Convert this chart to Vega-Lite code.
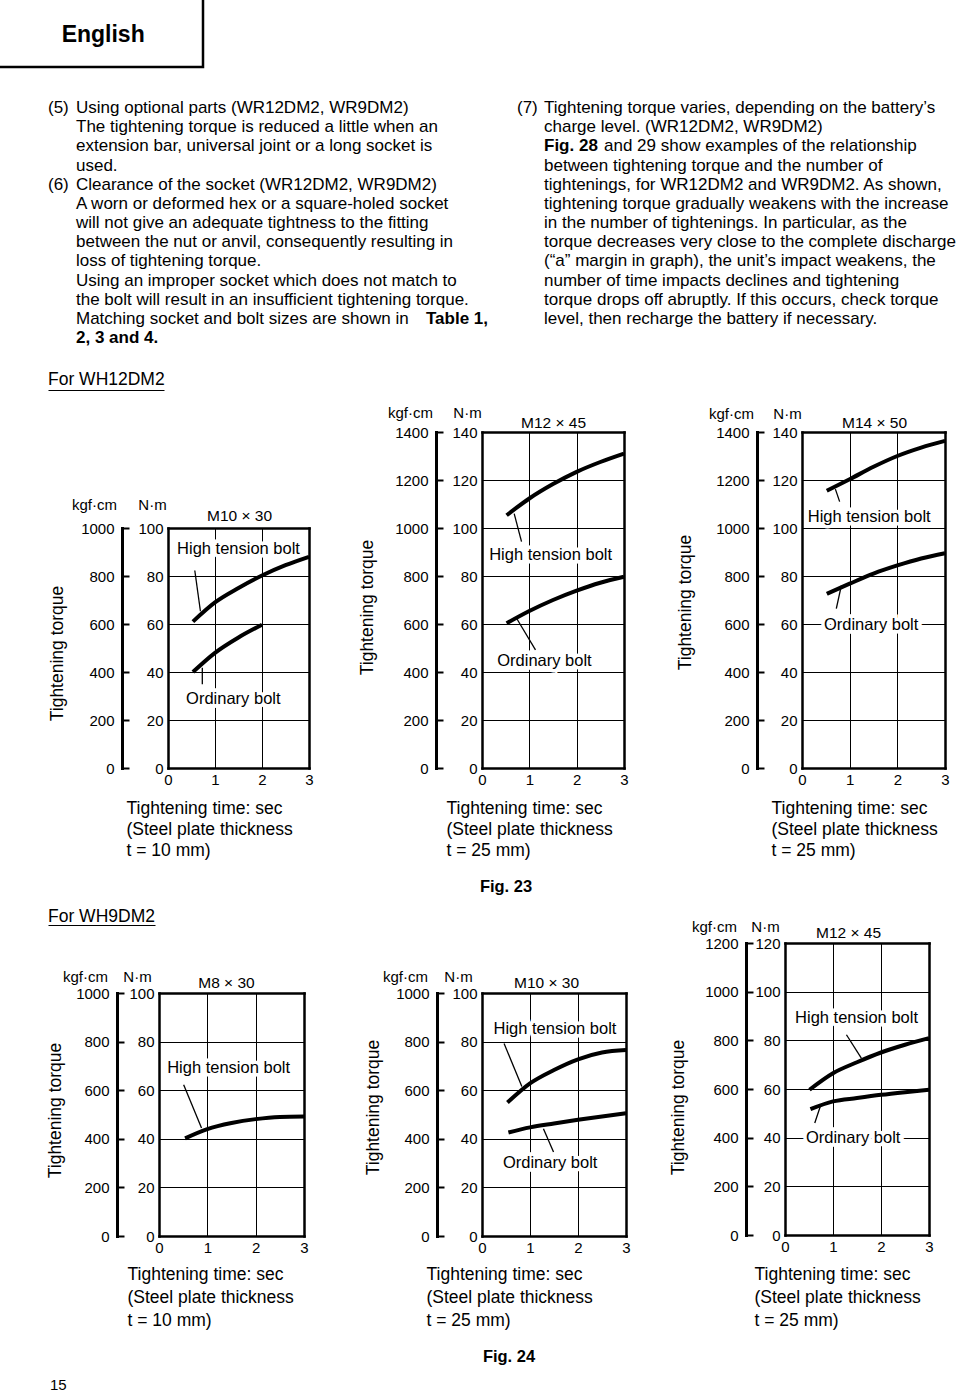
{
"$schema": "https://vega.github.io/schema/vega-lite/v6.json",
"width": 960, "height": 1392,
"autosize": {"type": "none"},
"padding": 0,
"background": "white",
"config": {
  "view": {"stroke": null},
  "font": "Liberation Sans",
  "text": {"font": "Liberation Sans", "color": "black"},
  "axis": {"labelFont": "Liberation Sans", "titleFont": "Liberation Sans", "labelColor": "black", "titleColor": "black", "titleFontWeight": "normal", "domainColor": "black", "tickColor": "black", "gridColor": "black", "gridOpacity": 1, "labelFontSize": 15, "titleFontSize": 15, "labelOverlap": false}
},
"datasets": {
  "header": [{"text": "English"}],
  "para": [
    {"col": 0, "line": 1, "text": "Using optional parts (WR12DM2, WR9DM2)"},
    {"col": 0, "line": 2, "text": "The tightening torque is reduced a little when an"},
    {"col": 0, "line": 3, "text": "extension bar, universal joint or a long socket is"},
    {"col": 0, "line": 4, "text": "used."},
    {"col": 0, "line": 5, "text": "Clearance of the socket (WR12DM2, WR9DM2)"},
    {"col": 0, "line": 6, "text": "A worn or deformed hex or a square-holed socket"},
    {"col": 0, "line": 7, "text": "will not give an adequate tightness to the fitting"},
    {"col": 0, "line": 8, "text": "between the nut or anvil, consequently resulting in"},
    {"col": 0, "line": 9, "text": "loss of tightening torque."},
    {"col": 0, "line": 10, "text": "Using an improper socket which does not match to"},
    {"col": 0, "line": 11, "text": "the bolt will result in an insufficient tightening torque."},
    {"col": 0, "line": 12, "text": "Matching socket and bolt sizes are shown in"},
    {"col": 1, "line": 1, "text": "Tightening torque varies, depending on the battery’s"},
    {"col": 1, "line": 2, "text": "charge level. (WR12DM2, WR9DM2)"},
    {"col": 1, "line": 4, "text": "between tightening torque and the number of"},
    {"col": 1, "line": 5, "text": "tightenings, for WR12DM2 and WR9DM2. As shown,"},
    {"col": 1, "line": 6, "text": "tightening torque gradually weakens with the increase"},
    {"col": 1, "line": 7, "text": "in the number of tightenings. In particular, as the"},
    {"col": 1, "line": 8, "text": "torque decreases very close to the complete discharge"},
    {"col": 1, "line": 9, "text": "(“a” margin in graph), the unit’s impact weakens, the"},
    {"col": 1, "line": 10, "text": "number of time impacts declines and tightening"},
    {"col": 1, "line": 11, "text": "torque drops off abruptly. If this occurs, check torque"},
    {"col": 1, "line": 12, "text": "level, then recharge the battery if necessary."}
  ],
  "paraBoldL": [{"col": 0, "line": 13, "text": "2, 3 and 4."}, {"col": 1, "line": 3, "text": "Fig. 28"}],
  "paraCont": [{"col": 1, "line": 3, "text": "and 29 show examples of the relationship"}],
  "paraEnd": [{"col": 0, "line": 12, "text": "Table 1,"}],
  "paraNum": [{"col": 0, "line": 1, "text": "(5)"}, {"col": 0, "line": 5, "text": "(6)"}, {"col": 1, "line": 1, "text": "(7)"}],
  "heads": [{"fig": 23, "text": "For WH12DM2"}, {"fig": 24, "text": "For WH9DM2"}],
  "figs": [{"fig": 23, "text": "Fig. 23"}, {"fig": 24, "text": "Fig. 24"}],
  "page": [{"text": "15"}],
  "curves": [
    {"chart": "c1", "series": "HT", "t": 0.53, "v": 61}, {"chart": "c1", "series": "HT", "t": 1, "v": 69}, {"chart": "c1", "series": "HT", "t": 1.5, "v": 75}, {"chart": "c1", "series": "HT", "t": 2, "v": 80.2}, {"chart": "c1", "series": "HT", "t": 2.5, "v": 84.5}, {"chart": "c1", "series": "HT", "t": 3, "v": 88},
    {"chart": "c1", "series": "ORD", "t": 0.53, "v": 40}, {"chart": "c1", "series": "ORD", "t": 1, "v": 48}, {"chart": "c1", "series": "ORD", "t": 1.5, "v": 54.4}, {"chart": "c1", "series": "ORD", "t": 2, "v": 59.7},
    {"chart": "c2", "series": "HT", "t": 0.52, "v": 105.3}, {"chart": "c2", "series": "HT", "t": 1, "v": 112.3}, {"chart": "c2", "series": "HT", "t": 1.5, "v": 118.3}, {"chart": "c2", "series": "HT", "t": 2, "v": 123.4}, {"chart": "c2", "series": "HT", "t": 2.5, "v": 127.5}, {"chart": "c2", "series": "HT", "t": 3, "v": 131},
    {"chart": "c2", "series": "ORD", "t": 0.52, "v": 60.3}, {"chart": "c2", "series": "ORD", "t": 1, "v": 65.4}, {"chart": "c2", "series": "ORD", "t": 1.5, "v": 70}, {"chart": "c2", "series": "ORD", "t": 2, "v": 73.9}, {"chart": "c2", "series": "ORD", "t": 2.5, "v": 77.2}, {"chart": "c2", "series": "ORD", "t": 3, "v": 79.7},
    {"chart": "c3", "series": "HT", "t": 0.52, "v": 115.5}, {"chart": "c3", "series": "HT", "t": 1, "v": 120.3}, {"chart": "c3", "series": "HT", "t": 1.5, "v": 125.5}, {"chart": "c3", "series": "HT", "t": 2, "v": 130}, {"chart": "c3", "series": "HT", "t": 2.5, "v": 133.5}, {"chart": "c3", "series": "HT", "t": 3, "v": 136.3},
    {"chart": "c3", "series": "ORD", "t": 0.52, "v": 72.6}, {"chart": "c3", "series": "ORD", "t": 1, "v": 76.8}, {"chart": "c3", "series": "ORD", "t": 1.5, "v": 81}, {"chart": "c3", "series": "ORD", "t": 2, "v": 84.4}, {"chart": "c3", "series": "ORD", "t": 2.5, "v": 87.3}, {"chart": "c3", "series": "ORD", "t": 3, "v": 89.5},
    {"chart": "c4", "series": "HT", "t": 0.54, "v": 40.2}, {"chart": "c4", "series": "HT", "t": 1, "v": 44}, {"chart": "c4", "series": "HT", "t": 1.5, "v": 46.5}, {"chart": "c4", "series": "HT", "t": 2, "v": 48.1}, {"chart": "c4", "series": "HT", "t": 2.5, "v": 49}, {"chart": "c4", "series": "HT", "t": 3, "v": 49.2},
    {"chart": "c5", "series": "HT", "t": 0.53, "v": 54.9}, {"chart": "c5", "series": "HT", "t": 1, "v": 62.8}, {"chart": "c5", "series": "HT", "t": 1.5, "v": 68.3}, {"chart": "c5", "series": "HT", "t": 2, "v": 72.7}, {"chart": "c5", "series": "HT", "t": 2.5, "v": 75.5}, {"chart": "c5", "series": "HT", "t": 3, "v": 76.5},
    {"chart": "c5", "series": "ORD", "t": 0.55, "v": 42.6}, {"chart": "c5", "series": "ORD", "t": 1, "v": 44.7}, {"chart": "c5", "series": "ORD", "t": 1.5, "v": 46.3}, {"chart": "c5", "series": "ORD", "t": 2, "v": 47.8}, {"chart": "c5", "series": "ORD", "t": 2.5, "v": 49.2}, {"chart": "c5", "series": "ORD", "t": 3, "v": 50.5},
    {"chart": "c6", "series": "HT", "t": 0.51, "v": 59.7}, {"chart": "c6", "series": "HT", "t": 1, "v": 66.5}, {"chart": "c6", "series": "HT", "t": 1.5, "v": 71}, {"chart": "c6", "series": "HT", "t": 2, "v": 75}, {"chart": "c6", "series": "HT", "t": 2.5, "v": 78.2}, {"chart": "c6", "series": "HT", "t": 3, "v": 80.9},
    {"chart": "c6", "series": "ORD", "t": 0.53, "v": 51.7}, {"chart": "c6", "series": "ORD", "t": 1, "v": 54.9}, {"chart": "c6", "series": "ORD", "t": 1.5, "v": 56.3}, {"chart": "c6", "series": "ORD", "t": 2, "v": 57.6}, {"chart": "c6", "series": "ORD", "t": 2.5, "v": 58.7}, {"chart": "c6", "series": "ORD", "t": 3, "v": 59.7}
  ],
  "leaders": [
    {"chart": "c1", "t": 0.57, "v": 82.3, "t2": 0.69, "v2": 65.3}, {"chart": "c1", "t": 0.73, "v": 41.8, "t2": 0.73, "v2": 34.9},
    {"chart": "c2", "t": 0.68, "v": 106, "t2": 0.835, "v2": 94.3}, {"chart": "c2", "t": 0.73, "v": 62.4, "t2": 1.13, "v2": 49.2},
    {"chart": "c3", "t": 0.7, "v": 116.2, "t2": 0.79, "v2": 111}, {"chart": "c3", "t": 0.825, "v": 76, "t2": 0.72, "v2": 66.4},
    {"chart": "c4", "t": 0.51, "v": 62.2, "t2": 0.88, "v2": 44.4},
    {"chart": "c5", "t": 0.46, "v": 79.2, "t2": 0.83, "v2": 61.5}, {"chart": "c5", "t": 1.28, "v": 44.1, "t2": 1.49, "v2": 34.6},
    {"chart": "c6", "t": 1.28, "v": 82.3, "t2": 1.59, "v2": 72.7}, {"chart": "c6", "t": 0.74, "v": 53.1, "t2": 0.62, "v2": 46}
  ],
  "labels": [
    {"chart": "c1", "t": 1.5, "v": 91.4, "label": "High tension bolt"}, {"chart": "c1", "t": 1.39, "v": 28.6, "label": "Ordinary bolt"},
    {"chart": "c2", "t": 1.45, "v": 88.7, "label": "High tension bolt"}, {"chart": "c2", "t": 1.32, "v": 44.4, "label": "Ordinary bolt"},
    {"chart": "c3", "t": 1.41, "v": 104.7, "label": "High tension bolt"}, {"chart": "c3", "t": 1.45, "v": 59.4, "label": "Ordinary bolt"},
    {"chart": "c4", "t": 1.44, "v": 69.1, "label": "High tension bolt"},
    {"chart": "c5", "t": 1.52, "v": 85.1, "label": "High tension bolt"}, {"chart": "c5", "t": 1.42, "v": 30, "label": "Ordinary bolt"},
    {"chart": "c6", "t": 1.49, "v": 89, "label": "High tension bolt"}, {"chart": "c6", "t": 1.42, "v": 39.8, "label": "Ordinary bolt"}
  ]
},
"layer": [
  {"data": {"name": "header"},
   "layer": [
     {"mark": {"type": "rect", "filled": false, "stroke": "black", "strokeWidth": 2.5},
      "encoding": {
        "x": {"datum": 0, "type": "quantitative", "scale": {"domain": [0, 1], "range": [-5, 203], "nice": false, "zero": false}, "axis": null},
        "x2": {"datum": 1},
        "y": {"datum": 0, "type": "quantitative", "scale": {"domain": [0, 1], "range": [-5, 67], "nice": false, "zero": false}, "axis": null},
        "y2": {"datum": 1}}},
     {"mark": {"type": "text", "fontSize": 23, "fontWeight": "bold", "align": "center", "baseline": "middle"},
      "encoding": {
        "x": {"datum": 0.52, "type": "quantitative", "scale": {"domain": [0, 1], "range": [-5, 203], "nice": false, "zero": false}, "axis": null},
        "y": {"datum": 0.55, "type": "quantitative", "scale": {"domain": [0, 1], "range": [-5, 67], "nice": false, "zero": false}, "axis": null},
        "text": {"field": "text"}}}
   ]},
  {"data": {"name": "para"},
   "mark": {"type": "text", "fontSize": 17, "align": "left", "baseline": "middle"},
   "encoding": {
     "x": {"field": "col", "type": "quantitative", "scale": {"domain": [0, 1], "range": [76, 544], "nice": false, "zero": false}, "axis": null},
     "y": {"field": "line", "type": "quantitative", "scale": {"domain": [1, 13], "range": [108, 338], "nice": false, "zero": false}, "axis": null},
     "text": {"field": "text"}}},
  {"data": {"name": "paraBoldL"},
   "mark": {"type": "text", "fontSize": 17, "fontWeight": "bold", "align": "left", "baseline": "middle"},
   "encoding": {
     "x": {"field": "col", "type": "quantitative", "scale": {"domain": [0, 1], "range": [76, 544], "nice": false, "zero": false}, "axis": null},
     "y": {"field": "line", "type": "quantitative", "scale": {"domain": [1, 13], "range": [108, 338], "nice": false, "zero": false}, "axis": null},
     "text": {"field": "text"}}},
  {"data": {"name": "paraCont"},
   "mark": {"type": "text", "fontSize": 17, "align": "left", "baseline": "middle", "dx": 60},
   "encoding": {
     "x": {"field": "col", "type": "quantitative", "scale": {"domain": [0, 1], "range": [76, 544], "nice": false, "zero": false}, "axis": null},
     "y": {"field": "line", "type": "quantitative", "scale": {"domain": [1, 13], "range": [108, 338], "nice": false, "zero": false}, "axis": null},
     "text": {"field": "text"}}},
  {"data": {"name": "paraEnd"},
   "mark": {"type": "text", "fontSize": 17, "fontWeight": "bold", "align": "right", "baseline": "middle"},
   "encoding": {
     "x": {"field": "col", "type": "quantitative", "scale": {"domain": [0, 1], "range": [488, 957], "nice": false, "zero": false}, "axis": null},
     "y": {"field": "line", "type": "quantitative", "scale": {"domain": [1, 13], "range": [108, 338], "nice": false, "zero": false}, "axis": null},
     "text": {"field": "text"}}},
  {"data": {"name": "paraNum"},
   "mark": {"type": "text", "fontSize": 17, "align": "left", "baseline": "middle"},
   "encoding": {
     "x": {"field": "col", "type": "quantitative", "scale": {"domain": [0, 1], "range": [48, 517], "nice": false, "zero": false}, "axis": null},
     "y": {"field": "line", "type": "quantitative", "scale": {"domain": [1, 13], "range": [108, 338], "nice": false, "zero": false}, "axis": null},
     "text": {"field": "text"}}},
  {"data": {"name": "heads"}, "transform": [{"filter": "datum.fig === 23"}],
   "mark": {"type": "text", "fontSize": 17.5, "align": "left", "baseline": "middle"},
   "encoding": {
     "x": {"datum": 0, "type": "quantitative", "scale": {"domain": [0, 1], "range": [48, 164], "nice": false, "zero": false},
           "axis": {"orient": "bottom", "offset": -1002, "domain": true, "domainWidth": 1.2, "labels": false, "ticks": false, "grid": false, "title": null}},
     "y": {"datum": 0, "type": "quantitative", "scale": {"domain": [0, 1], "range": [380, 400], "nice": false, "zero": false}, "axis": null},
     "text": {"field": "text"}}},
  {"data": {"name": "heads"}, "transform": [{"filter": "datum.fig === 24"}],
   "mark": {"type": "text", "fontSize": 17.5, "align": "left", "baseline": "middle"},
   "encoding": {
     "x": {"datum": 0, "type": "quantitative", "scale": {"domain": [0, 1], "range": [48, 155], "nice": false, "zero": false},
           "axis": {"orient": "bottom", "offset": -467, "domain": true, "domainWidth": 1.2, "labels": false, "ticks": false, "grid": false, "title": null}},
     "y": {"datum": 0, "type": "quantitative", "scale": {"domain": [0, 1], "range": [917, 937], "nice": false, "zero": false}, "axis": null},
     "text": {"field": "text"}}},
  {"data": {"name": "figs"},
   "mark": {"type": "text", "fontSize": 16.5, "fontWeight": "bold", "align": "center", "baseline": "middle"},
   "encoding": {
     "x": {"field": "fig", "type": "quantitative", "scale": {"domain": [23, 24], "range": [506, 509], "nice": false, "zero": false}, "axis": null},
     "y": {"field": "fig", "type": "quantitative", "scale": {"domain": [23, 24], "range": [887, 1357], "nice": false, "zero": false}, "axis": null},
     "text": {"field": "text"}}},
  {"data": {"name": "page"},
   "mark": {"type": "text", "fontSize": 15, "align": "left", "baseline": "middle"},
   "encoding": {
     "x": {"datum": 0, "type": "quantitative", "scale": {"domain": [0, 1], "range": [50, 60], "nice": false, "zero": false}, "axis": null},
     "y": {"datum": 0, "type": "quantitative", "scale": {"domain": [0, 1], "range": [1385, 1390], "nice": false, "zero": false}, "axis": null},
     "text": {"field": "text"}}},

  {"layer": [
    {"data": {"name": "labels"}, "transform": [{"filter": "datum.chart === 'c1'"}],
     "mark": {"type": "text", "fontSize": 16.5, "fill": "white", "stroke": "white", "strokeWidth": 7, "align": "center", "baseline": "middle"},
     "encoding": {
       "x": {"field": "t", "type": "quantitative", "scale": {"domain": [0, 3], "range": [168, 309], "nice": false, "zero": false}, "axis": null},
       "y": {"field": "v", "type": "quantitative", "scale": {"domain": [0, 100], "range": [768, 528], "nice": false, "zero": false},
             "axis": {"orient": "left", "offset": -122, "values": [0, 20, 40, 60, 80, 100], "labelExpr": "format(datum.value*10,'d')", "domain": true, "domainWidth": 3, "domainCap": "square", "ticks": true, "tickSize": -7, "tickWidth": 2, "labelPadding": 15, "grid": false, "title": "kgf·cm", "titleAngle": 0, "titleX": -28, "titleY": 504, "titleAlign": "center", "titleBaseline": "middle"}},
       "text": {"field": "label"}}},
    {"data": {"name": "curves"}, "transform": [{"filter": "datum.chart === 'c1'"}],
     "mark": {"type": "line", "interpolate": "monotone", "strokeWidth": 4, "color": "black"},
     "encoding": {
       "x": {"field": "t", "type": "quantitative", "scale": {"domain": [0, 3], "range": [168, 309], "nice": false, "zero": false},
             "axis": {"orient": "bottom", "offset": -624, "values": [0, 1, 2, 3], "labelFlush": false, "domain": true, "domainWidth": 2.5, "domainCap": "square", "ticks": false, "grid": false, "labelPadding": 4, "title": ["Tightening time: sec", "(Steel plate thickness", "t = 10 mm)"], "titleX": 126, "titleY": 31, "titleAlign": "left", "titleBaseline": "top", "titleFontSize": 17.5, "titleLineHeight": 21}},
       "y": {"field": "v", "type": "quantitative", "scale": {"domain": [0, 100], "range": [768, 528], "nice": false, "zero": false},
             "axis": {"orient": "left", "offset": -168, "values": [0, 20, 40, 60, 80, 100], "domain": true, "domainWidth": 2.5, "domainCap": "square", "ticks": false, "grid": true, "gridWidth": 1, "labelPadding": 5, "title": "N·m", "titleAngle": 0, "titleX": -16, "titleY": 504, "titleAlign": "center", "titleBaseline": "middle"}},
       "detail": {"field": "series", "type": "nominal"}}},
    {"data": {"name": "leaders"}, "transform": [{"filter": "datum.chart === 'c1'"}],
     "mark": {"type": "rule", "strokeWidth": 1.3, "color": "black"},
     "encoding": {
       "x": {"field": "t", "type": "quantitative", "scale": {"domain": [0, 3], "range": [168, 309], "nice": false, "zero": false},
             "axis": {"orient": "top", "offset": -528, "values": [0, 1, 2, 3], "domain": true, "domainWidth": 2.5, "domainCap": "square", "ticks": false, "labels": false, "grid": true, "gridWidth": 1, "title": "M10 × 30", "titleX": 239, "titleY": -13, "titleAlign": "center", "titleBaseline": "middle", "titleFontSize": 15.5}},
       "x2": {"field": "t2"},
       "y": {"field": "v", "type": "quantitative", "scale": {"domain": [0, 100], "range": [768, 528], "nice": false, "zero": false},
             "axis": {"orient": "right", "offset": -651, "domain": true, "domainWidth": 2.5, "domainCap": "square", "ticks": false, "labels": false, "grid": false, "title": null}},
       "y2": {"field": "v2"}}},
    {"data": {"name": "labels"}, "transform": [{"filter": "datum.chart === 'c1'"}],
     "mark": {"type": "text", "fontSize": 16.5, "color": "black", "align": "center", "baseline": "middle"},
     "encoding": {
       "x": {"field": "t", "type": "quantitative", "scale": {"domain": [0, 3], "range": [168, 309], "nice": false, "zero": false}, "axis": null},
       "y": {"field": "v", "type": "quantitative", "scale": {"domain": [0, 100], "range": [768, 528], "nice": false, "zero": false},
             "axis": {"orient": "left", "offset": 0, "domain": false, "ticks": false, "labels": false, "grid": false, "title": "Tightening torque", "titleX": 57, "titleY": 653, "titleAngle": -90, "titleAlign": "center", "titleBaseline": "middle", "titleFontSize": 17.5}},
       "text": {"field": "label"}}}
   ],
   "resolve": {"axis": {"x": "independent", "y": "independent"}}},

  {"layer": [
    {"data": {"name": "labels"}, "transform": [{"filter": "datum.chart === 'c2'"}],
     "mark": {"type": "text", "fontSize": 16.5, "fill": "white", "stroke": "white", "strokeWidth": 7, "align": "center", "baseline": "middle"},
     "encoding": {
       "x": {"field": "t", "type": "quantitative", "scale": {"domain": [0, 3], "range": [482, 624], "nice": false, "zero": false}, "axis": null},
       "y": {"field": "v", "type": "quantitative", "scale": {"domain": [0, 140], "range": [768, 432], "nice": false, "zero": false},
             "axis": {"orient": "left", "offset": -436, "values": [0, 20, 40, 60, 80, 100, 120, 140], "labelExpr": "format(datum.value*10,'d')", "domain": true, "domainWidth": 3, "domainCap": "square", "ticks": true, "tickSize": -7, "tickWidth": 2, "labelPadding": 15, "grid": false, "title": "kgf·cm", "titleAngle": 0, "titleX": -26, "titleY": 412, "titleAlign": "center", "titleBaseline": "middle"}},
       "text": {"field": "label"}}},
    {"data": {"name": "curves"}, "transform": [{"filter": "datum.chart === 'c2'"}],
     "mark": {"type": "line", "interpolate": "monotone", "strokeWidth": 4, "color": "black"},
     "encoding": {
       "x": {"field": "t", "type": "quantitative", "scale": {"domain": [0, 3], "range": [482, 624], "nice": false, "zero": false},
             "axis": {"orient": "bottom", "offset": -624, "values": [0, 1, 2, 3], "labelFlush": false, "domain": true, "domainWidth": 2.5, "domainCap": "square", "ticks": false, "grid": false, "labelPadding": 4, "title": ["Tightening time: sec", "(Steel plate thickness", "t = 25 mm)"], "titleX": 446, "titleY": 31, "titleAlign": "left", "titleBaseline": "top", "titleFontSize": 17.5, "titleLineHeight": 21}},
       "y": {"field": "v", "type": "quantitative", "scale": {"domain": [0, 140], "range": [768, 432], "nice": false, "zero": false},
             "axis": {"orient": "left", "offset": -482, "values": [0, 20, 40, 60, 80, 100, 120, 140], "domain": true, "domainWidth": 2.5, "domainCap": "square", "ticks": false, "grid": true, "gridWidth": 1, "labelPadding": 5, "title": "N·m", "titleAngle": 0, "titleX": -15, "titleY": 412, "titleAlign": "center", "titleBaseline": "middle"}},
       "detail": {"field": "series", "type": "nominal"}}},
    {"data": {"name": "leaders"}, "transform": [{"filter": "datum.chart === 'c2'"}],
     "mark": {"type": "rule", "strokeWidth": 1.3, "color": "black"},
     "encoding": {
       "x": {"field": "t", "type": "quantitative", "scale": {"domain": [0, 3], "range": [482, 624], "nice": false, "zero": false},
             "axis": {"orient": "top", "offset": -432, "values": [0, 1, 2, 3], "domain": true, "domainWidth": 2.5, "domainCap": "square", "ticks": false, "labels": false, "grid": true, "gridWidth": 1, "title": "M12 × 45", "titleX": 553, "titleY": -10, "titleAlign": "center", "titleBaseline": "middle", "titleFontSize": 15.5}},
       "x2": {"field": "t2"},
       "y": {"field": "v", "type": "quantitative", "scale": {"domain": [0, 140], "range": [768, 432], "nice": false, "zero": false},
             "axis": {"orient": "right", "offset": -336, "domain": true, "domainWidth": 2.5, "domainCap": "square", "ticks": false, "labels": false, "grid": false, "title": null}},
       "y2": {"field": "v2"}}},
    {"data": {"name": "labels"}, "transform": [{"filter": "datum.chart === 'c2'"}],
     "mark": {"type": "text", "fontSize": 16.5, "color": "black", "align": "center", "baseline": "middle"},
     "encoding": {
       "x": {"field": "t", "type": "quantitative", "scale": {"domain": [0, 3], "range": [482, 624], "nice": false, "zero": false}, "axis": null},
       "y": {"field": "v", "type": "quantitative", "scale": {"domain": [0, 140], "range": [768, 432], "nice": false, "zero": false},
             "axis": {"orient": "left", "offset": 0, "domain": false, "ticks": false, "labels": false, "grid": false, "title": "Tightening torque", "titleX": 367, "titleY": 607, "titleAngle": -90, "titleAlign": "center", "titleBaseline": "middle", "titleFontSize": 17.5}},
       "text": {"field": "label"}}}
   ],
   "resolve": {"axis": {"x": "independent", "y": "independent"}}},

  {"layer": [
    {"data": {"name": "labels"}, "transform": [{"filter": "datum.chart === 'c3'"}],
     "mark": {"type": "text", "fontSize": 16.5, "fill": "white", "stroke": "white", "strokeWidth": 7, "align": "center", "baseline": "middle"},
     "encoding": {
       "x": {"field": "t", "type": "quantitative", "scale": {"domain": [0, 3], "range": [802, 945], "nice": false, "zero": false}, "axis": null},
       "y": {"field": "v", "type": "quantitative", "scale": {"domain": [0, 140], "range": [768, 432], "nice": false, "zero": false},
             "axis": {"orient": "left", "offset": -757, "values": [0, 20, 40, 60, 80, 100, 120, 140], "labelExpr": "format(datum.value*10,'d')", "domain": true, "domainWidth": 3, "domainCap": "square", "ticks": true, "tickSize": -7, "tickWidth": 2, "labelPadding": 15, "grid": false, "title": "kgf·cm", "titleAngle": 0, "titleX": -26, "titleY": 413, "titleAlign": "center", "titleBaseline": "middle"}},
       "text": {"field": "label"}}},
    {"data": {"name": "curves"}, "transform": [{"filter": "datum.chart === 'c3'"}],
     "mark": {"type": "line", "interpolate": "monotone", "strokeWidth": 4, "color": "black"},
     "encoding": {
       "x": {"field": "t", "type": "quantitative", "scale": {"domain": [0, 3], "range": [802, 945], "nice": false, "zero": false},
             "axis": {"orient": "bottom", "offset": -624, "values": [0, 1, 2, 3], "labelFlush": false, "domain": true, "domainWidth": 2.5, "domainCap": "square", "ticks": false, "grid": false, "labelPadding": 4, "title": ["Tightening time: sec", "(Steel plate thickness", "t = 25 mm)"], "titleX": 771, "titleY": 31, "titleAlign": "left", "titleBaseline": "top", "titleFontSize": 17.5, "titleLineHeight": 21}},
       "y": {"field": "v", "type": "quantitative", "scale": {"domain": [0, 140], "range": [768, 432], "nice": false, "zero": false},
             "axis": {"orient": "left", "offset": -802, "values": [0, 20, 40, 60, 80, 100, 120, 140], "domain": true, "domainWidth": 2.5, "domainCap": "square", "ticks": false, "grid": true, "gridWidth": 1, "labelPadding": 5, "title": "N·m", "titleAngle": 0, "titleX": -15, "titleY": 413, "titleAlign": "center", "titleBaseline": "middle"}},
       "detail": {"field": "series", "type": "nominal"}}},
    {"data": {"name": "leaders"}, "transform": [{"filter": "datum.chart === 'c3'"}],
     "mark": {"type": "rule", "strokeWidth": 1.3, "color": "black"},
     "encoding": {
       "x": {"field": "t", "type": "quantitative", "scale": {"domain": [0, 3], "range": [802, 945], "nice": false, "zero": false},
             "axis": {"orient": "top", "offset": -432, "values": [0, 1, 2, 3], "domain": true, "domainWidth": 2.5, "domainCap": "square", "ticks": false, "labels": false, "grid": true, "gridWidth": 1, "title": "M14 × 50", "titleX": 874, "titleY": -10, "titleAlign": "center", "titleBaseline": "middle", "titleFontSize": 15.5}},
       "x2": {"field": "t2"},
       "y": {"field": "v", "type": "quantitative", "scale": {"domain": [0, 140], "range": [768, 432], "nice": false, "zero": false},
             "axis": {"orient": "right", "offset": -15, "domain": true, "domainWidth": 2.5, "domainCap": "square", "ticks": false, "labels": false, "grid": false, "title": null}},
       "y2": {"field": "v2"}}},
    {"data": {"name": "labels"}, "transform": [{"filter": "datum.chart === 'c3'"}],
     "mark": {"type": "text", "fontSize": 16.5, "color": "black", "align": "center", "baseline": "middle"},
     "encoding": {
       "x": {"field": "t", "type": "quantitative", "scale": {"domain": [0, 3], "range": [802, 945], "nice": false, "zero": false}, "axis": null},
       "y": {"field": "v", "type": "quantitative", "scale": {"domain": [0, 140], "range": [768, 432], "nice": false, "zero": false},
             "axis": {"orient": "left", "offset": 0, "domain": false, "ticks": false, "labels": false, "grid": false, "title": "Tightening torque", "titleX": 685, "titleY": 602, "titleAngle": -90, "titleAlign": "center", "titleBaseline": "middle", "titleFontSize": 17.5}},
       "text": {"field": "label"}}}
   ],
   "resolve": {"axis": {"x": "independent", "y": "independent"}}},

  {"layer": [
    {"data": {"name": "labels"}, "transform": [{"filter": "datum.chart === 'c4'"}],
     "mark": {"type": "text", "fontSize": 16.5, "fill": "white", "stroke": "white", "strokeWidth": 7, "align": "center", "baseline": "middle"},
     "encoding": {
       "x": {"field": "t", "type": "quantitative", "scale": {"domain": [0, 3], "range": [159, 304], "nice": false, "zero": false}, "axis": null},
       "y": {"field": "v", "type": "quantitative", "scale": {"domain": [0, 100], "range": [1236, 993], "nice": false, "zero": false},
             "axis": {"orient": "left", "offset": -117, "values": [0, 20, 40, 60, 80, 100], "labelExpr": "format(datum.value*10,'d')", "domain": true, "domainWidth": 3, "domainCap": "square", "ticks": true, "tickSize": -7, "tickWidth": 2, "labelPadding": 15, "grid": false, "title": "kgf·cm", "titleAngle": 0, "titleX": -32, "titleY": 976, "titleAlign": "center", "titleBaseline": "middle"}},
       "text": {"field": "label"}}},
    {"data": {"name": "curves"}, "transform": [{"filter": "datum.chart === 'c4'"}],
     "mark": {"type": "line", "interpolate": "monotone", "strokeWidth": 4, "color": "black"},
     "encoding": {
       "x": {"field": "t", "type": "quantitative", "scale": {"domain": [0, 3], "range": [159, 304], "nice": false, "zero": false},
             "axis": {"orient": "bottom", "offset": -156, "values": [0, 1, 2, 3], "labelFlush": false, "domain": true, "domainWidth": 2.5, "domainCap": "square", "ticks": false, "grid": false, "labelPadding": 4, "title": ["Tightening time: sec", "(Steel plate thickness", "t = 10 mm)"], "titleX": 127, "titleY": 29, "titleAlign": "left", "titleBaseline": "top", "titleFontSize": 17.5, "titleLineHeight": 23}},
       "y": {"field": "v", "type": "quantitative", "scale": {"domain": [0, 100], "range": [1236, 993], "nice": false, "zero": false},
             "axis": {"orient": "left", "offset": -159, "values": [0, 20, 40, 60, 80, 100], "domain": true, "domainWidth": 2.5, "domainCap": "square", "ticks": false, "grid": true, "gridWidth": 1, "labelPadding": 5, "title": "N·m", "titleAngle": 0, "titleX": -22, "titleY": 976, "titleAlign": "center", "titleBaseline": "middle"}},
       "detail": {"field": "series", "type": "nominal"}}},
    {"data": {"name": "leaders"}, "transform": [{"filter": "datum.chart === 'c4'"}],
     "mark": {"type": "rule", "strokeWidth": 1.3, "color": "black"},
     "encoding": {
       "x": {"field": "t", "type": "quantitative", "scale": {"domain": [0, 3], "range": [159, 304], "nice": false, "zero": false},
             "axis": {"orient": "top", "offset": -993, "values": [0, 1, 2, 3], "domain": true, "domainWidth": 2.5, "domainCap": "square", "ticks": false, "labels": false, "grid": true, "gridWidth": 1, "title": "M8 × 30", "titleX": 226, "titleY": -11, "titleAlign": "center", "titleBaseline": "middle", "titleFontSize": 15.5}},
       "x2": {"field": "t2"},
       "y": {"field": "v", "type": "quantitative", "scale": {"domain": [0, 100], "range": [1236, 993], "nice": false, "zero": false},
             "axis": {"orient": "right", "offset": -656, "domain": true, "domainWidth": 2.5, "domainCap": "square", "ticks": false, "labels": false, "grid": false, "title": null}},
       "y2": {"field": "v2"}}},
    {"data": {"name": "labels"}, "transform": [{"filter": "datum.chart === 'c4'"}],
     "mark": {"type": "text", "fontSize": 16.5, "color": "black", "align": "center", "baseline": "middle"},
     "encoding": {
       "x": {"field": "t", "type": "quantitative", "scale": {"domain": [0, 3], "range": [159, 304], "nice": false, "zero": false}, "axis": null},
       "y": {"field": "v", "type": "quantitative", "scale": {"domain": [0, 100], "range": [1236, 993], "nice": false, "zero": false},
             "axis": {"orient": "left", "offset": 0, "domain": false, "ticks": false, "labels": false, "grid": false, "title": "Tightening torque", "titleX": 55, "titleY": 1110, "titleAngle": -90, "titleAlign": "center", "titleBaseline": "middle", "titleFontSize": 17.5}},
       "text": {"field": "label"}}}
   ],
   "resolve": {"axis": {"x": "independent", "y": "independent"}}},

  {"layer": [
    {"data": {"name": "labels"}, "transform": [{"filter": "datum.chart === 'c5'"}],
     "mark": {"type": "text", "fontSize": 16.5, "fill": "white", "stroke": "white", "strokeWidth": 7, "align": "center", "baseline": "middle"},
     "encoding": {
       "x": {"field": "t", "type": "quantitative", "scale": {"domain": [0, 3], "range": [482, 626], "nice": false, "zero": false}, "axis": null},
       "y": {"field": "v", "type": "quantitative", "scale": {"domain": [0, 100], "range": [1236, 993], "nice": false, "zero": false},
             "axis": {"orient": "left", "offset": -437, "values": [0, 20, 40, 60, 80, 100], "labelExpr": "format(datum.value*10,'d')", "domain": true, "domainWidth": 3, "domainCap": "square", "ticks": true, "tickSize": -7, "tickWidth": 2, "labelPadding": 15, "grid": false, "title": "kgf·cm", "titleAngle": 0, "titleX": -32, "titleY": 976, "titleAlign": "center", "titleBaseline": "middle"}},
       "text": {"field": "label"}}},
    {"data": {"name": "curves"}, "transform": [{"filter": "datum.chart === 'c5'"}],
     "mark": {"type": "line", "interpolate": "monotone", "strokeWidth": 4, "color": "black"},
     "encoding": {
       "x": {"field": "t", "type": "quantitative", "scale": {"domain": [0, 3], "range": [482, 626], "nice": false, "zero": false},
             "axis": {"orient": "bottom", "offset": -156, "values": [0, 1, 2, 3], "labelFlush": false, "domain": true, "domainWidth": 2.5, "domainCap": "square", "ticks": false, "grid": false, "labelPadding": 4, "title": ["Tightening time: sec", "(Steel plate thickness", "t = 25 mm)"], "titleX": 426, "titleY": 29, "titleAlign": "left", "titleBaseline": "top", "titleFontSize": 17.5, "titleLineHeight": 23}},
       "y": {"field": "v", "type": "quantitative", "scale": {"domain": [0, 100], "range": [1236, 993], "nice": false, "zero": false},
             "axis": {"orient": "left", "offset": -482, "values": [0, 20, 40, 60, 80, 100], "domain": true, "domainWidth": 2.5, "domainCap": "square", "ticks": false, "grid": true, "gridWidth": 1, "labelPadding": 5, "title": "N·m", "titleAngle": 0, "titleX": -24, "titleY": 976, "titleAlign": "center", "titleBaseline": "middle"}},
       "detail": {"field": "series", "type": "nominal"}}},
    {"data": {"name": "leaders"}, "transform": [{"filter": "datum.chart === 'c5'"}],
     "mark": {"type": "rule", "strokeWidth": 1.3, "color": "black"},
     "encoding": {
       "x": {"field": "t", "type": "quantitative", "scale": {"domain": [0, 3], "range": [482, 626], "nice": false, "zero": false},
             "axis": {"orient": "top", "offset": -993, "values": [0, 1, 2, 3], "domain": true, "domainWidth": 2.5, "domainCap": "square", "ticks": false, "labels": false, "grid": true, "gridWidth": 1, "title": "M10 × 30", "titleX": 546, "titleY": -11, "titleAlign": "center", "titleBaseline": "middle", "titleFontSize": 15.5}},
       "x2": {"field": "t2"},
       "y": {"field": "v", "type": "quantitative", "scale": {"domain": [0, 100], "range": [1236, 993], "nice": false, "zero": false},
             "axis": {"orient": "right", "offset": -334, "domain": true, "domainWidth": 2.5, "domainCap": "square", "ticks": false, "labels": false, "grid": false, "title": null}},
       "y2": {"field": "v2"}}},
    {"data": {"name": "labels"}, "transform": [{"filter": "datum.chart === 'c5'"}],
     "mark": {"type": "text", "fontSize": 16.5, "color": "black", "align": "center", "baseline": "middle"},
     "encoding": {
       "x": {"field": "t", "type": "quantitative", "scale": {"domain": [0, 3], "range": [482, 626], "nice": false, "zero": false}, "axis": null},
       "y": {"field": "v", "type": "quantitative", "scale": {"domain": [0, 100], "range": [1236, 993], "nice": false, "zero": false},
             "axis": {"orient": "left", "offset": 0, "domain": false, "ticks": false, "labels": false, "grid": false, "title": "Tightening torque", "titleX": 373, "titleY": 1107, "titleAngle": -90, "titleAlign": "center", "titleBaseline": "middle", "titleFontSize": 17.5}},
       "text": {"field": "label"}}}
   ],
   "resolve": {"axis": {"x": "independent", "y": "independent"}}},

  {"layer": [
    {"data": {"name": "labels"}, "transform": [{"filter": "datum.chart === 'c6'"}],
     "mark": {"type": "text", "fontSize": 16.5, "fill": "white", "stroke": "white", "strokeWidth": 7, "align": "center", "baseline": "middle"},
     "encoding": {
       "x": {"field": "t", "type": "quantitative", "scale": {"domain": [0, 3], "range": [785, 929], "nice": false, "zero": false}, "axis": null},
       "y": {"field": "v", "type": "quantitative", "scale": {"domain": [0, 120], "range": [1235, 943], "nice": false, "zero": false},
             "axis": {"orient": "left", "offset": -746, "values": [0, 20, 40, 60, 80, 100, 120], "labelExpr": "format(datum.value*10,'d')", "domain": true, "domainWidth": 3, "domainCap": "square", "ticks": true, "tickSize": -7, "tickWidth": 2, "labelPadding": 15, "grid": false, "title": "kgf·cm", "titleAngle": 0, "titleX": -32, "titleY": 926, "titleAlign": "center", "titleBaseline": "middle"}},
       "text": {"field": "label"}}},
    {"data": {"name": "curves"}, "transform": [{"filter": "datum.chart === 'c6'"}],
     "mark": {"type": "line", "interpolate": "monotone", "strokeWidth": 4, "color": "black"},
     "encoding": {
       "x": {"field": "t", "type": "quantitative", "scale": {"domain": [0, 3], "range": [785, 929], "nice": false, "zero": false},
             "axis": {"orient": "bottom", "offset": -157, "values": [0, 1, 2, 3], "labelFlush": false, "domain": true, "domainWidth": 2.5, "domainCap": "square", "ticks": false, "grid": false, "labelPadding": 4, "title": ["Tightening time: sec", "(Steel plate thickness", "t = 25 mm)"], "titleX": 754, "titleY": 30, "titleAlign": "left", "titleBaseline": "top", "titleFontSize": 17.5, "titleLineHeight": 23}},
       "y": {"field": "v", "type": "quantitative", "scale": {"domain": [0, 120], "range": [1235, 943], "nice": false, "zero": false},
             "axis": {"orient": "left", "offset": -785, "values": [0, 20, 40, 60, 80, 100, 120], "domain": true, "domainWidth": 2.5, "domainCap": "square", "ticks": false, "grid": true, "gridWidth": 1, "labelPadding": 5, "title": "N·m", "titleAngle": 0, "titleX": -20, "titleY": 926, "titleAlign": "center", "titleBaseline": "middle"}},
       "detail": {"field": "series", "type": "nominal"}}},
    {"data": {"name": "leaders"}, "transform": [{"filter": "datum.chart === 'c6'"}],
     "mark": {"type": "rule", "strokeWidth": 1.3, "color": "black"},
     "encoding": {
       "x": {"field": "t", "type": "quantitative", "scale": {"domain": [0, 3], "range": [785, 929], "nice": false, "zero": false},
             "axis": {"orient": "top", "offset": -943, "values": [0, 1, 2, 3], "domain": true, "domainWidth": 2.5, "domainCap": "square", "ticks": false, "labels": false, "grid": true, "gridWidth": 1, "title": "M12 × 45", "titleX": 848, "titleY": -11, "titleAlign": "center", "titleBaseline": "middle", "titleFontSize": 15.5}},
       "x2": {"field": "t2"},
       "y": {"field": "v", "type": "quantitative", "scale": {"domain": [0, 120], "range": [1235, 943], "nice": false, "zero": false},
             "axis": {"orient": "right", "offset": -31, "domain": true, "domainWidth": 2.5, "domainCap": "square", "ticks": false, "labels": false, "grid": false, "title": null}},
       "y2": {"field": "v2"}}},
    {"data": {"name": "labels"}, "transform": [{"filter": "datum.chart === 'c6'"}],
     "mark": {"type": "text", "fontSize": 16.5, "color": "black", "align": "center", "baseline": "middle"},
     "encoding": {
       "x": {"field": "t", "type": "quantitative", "scale": {"domain": [0, 3], "range": [785, 929], "nice": false, "zero": false}, "axis": null},
       "y": {"field": "v", "type": "quantitative", "scale": {"domain": [0, 120], "range": [1235, 943], "nice": false, "zero": false},
             "axis": {"orient": "left", "offset": 0, "domain": false, "ticks": false, "labels": false, "grid": false, "title": "Tightening torque", "titleX": 678, "titleY": 1107, "titleAngle": -90, "titleAlign": "center", "titleBaseline": "middle", "titleFontSize": 17.5}},
       "text": {"field": "label"}}}
   ],
   "resolve": {"axis": {"x": "independent", "y": "independent"}}}
],
"resolve": {"scale": {"x": "independent", "y": "independent"}, "axis": {"x": "independent", "y": "independent"}}
}
